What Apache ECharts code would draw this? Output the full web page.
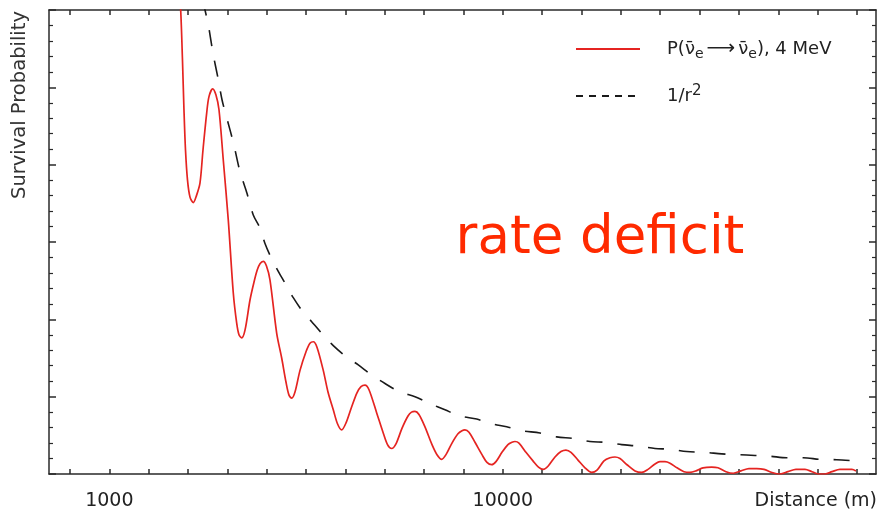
<!DOCTYPE html>
<html>
<head>
<meta charset="utf-8">
<script src="https://cdn.jsdelivr.net/npm/echarts@6/dist/echarts.min.js"></script>
<style>html,body{margin:0;padding:0;background:#fff}#c{width:884px;height:516px}</style>
</head>
<body>
<div id="c"></div>
<script>
// Distance axis (m)
const xMin = -380, xMax = 18535;
const xTickValues = [100, 1000, 1900, 2800, 3700, 4600, 5500, 6400, 7300, 8200, 9100, 10000, 10900, 11800, 12700, 13600, 14500, 15400, 16300, 17200, 18100];
const xLabelValues = [1000, 10000];
// Survival probability axis (arbitrary units)
const yMin = 0, yMax = 6, yInterval = 1;

// P(anti-nu_e -> anti-nu_e), 4 MeV
const oscDistance = [2595, 2632, 2673, 2707, 2742, 2788, 2845, 2920, 2993, 3073, 3142, 3227, 3279, 3364, 3439, 3508, 3606, 3721, 3835, 3913, 3965, 4027, 4103, 4217, 4308, 4384, 4446, 4521, 4594, 4674, 4828, 4942, 5040, 5109, 5171, 5246, 5361, 5498, 5589, 5665, 5749, 5893, 6001, 6122, 6218, 6314, 6413, 6543, 6664, 6756, 6847, 6939, 7115, 7259, 7362, 7458, 7556, 7693, 7831, 7911, 7991, 8082, 8219, 8380, 8494, 8602, 8700, 8837, 8974, 9066, 9134, 9226, 9363, 9523, 9637, 9745, 9843, 9980, 10117, 10209, 10278, 10369, 10529, 10689, 10815, 10925, 11033, 11193, 11330, 11444, 11559, 11719, 11879, 12032, 12154, 12314, 12451, 12565, 12680, 12840, 13023, 13176, 13320, 13480, 13594, 13709, 13823, 13983, 14143, 14281, 14418, 14578, 14777, 14921, 15104, 15271, 15447, 15630, 15806, 15973, 16156, 16339, 16522, 16705, 16911, 17071, 17208, 17368, 17528, 17710, 17870, 17985, 18077];
const oscValue = [6.26, 6.00, 5.35, 4.71, 4.19, 3.80, 3.58, 3.51, 3.60, 3.76, 4.19, 4.67, 4.88, 4.98, 4.90, 4.71, 4.06, 3.28, 2.34, 1.95, 1.80, 1.76, 1.86, 2.25, 2.48, 2.64, 2.72, 2.75, 2.69, 2.51, 1.82, 1.50, 1.19, 1.02, 0.98, 1.06, 1.34, 1.58, 1.69, 1.71, 1.64, 1.34, 1.06, 0.83, 0.65, 0.57, 0.66, 0.87, 1.05, 1.13, 1.15, 1.09, 0.79, 0.54, 0.38, 0.33, 0.39, 0.59, 0.75, 0.80, 0.81, 0.77, 0.61, 0.38, 0.25, 0.19, 0.25, 0.40, 0.52, 0.56, 0.57, 0.54, 0.41, 0.25, 0.15, 0.12, 0.16, 0.28, 0.38, 0.41, 0.42, 0.40, 0.28, 0.17, 0.09, 0.06, 0.10, 0.22, 0.29, 0.31, 0.28, 0.18, 0.08, 0.02, 0.05, 0.17, 0.21, 0.22, 0.20, 0.12, 0.04, 0.02, 0.06, 0.13, 0.16, 0.16, 0.14, 0.08, 0.03, 0.02, 0.04, 0.08, 0.09, 0.08, 0.03, 0.01, 0.04, 0.07, 0.07, 0.06, 0.02, 0.00, 0.03, 0.06, 0.06, 0.03, 0.00, 0.00, 0.03, 0.06, 0.06, 0.06, 0.04];

// 1/r^2
const invSqDistance = [3137, 3188, 3263, 3378, 3485, 3577, 3668, 3760, 3851, 3988, 4148, 4292, 4446, 4560, 4690, 4864, 5017, 5207, 5399, 5628, 5857, 6122, 6390, 6694, 7000, 7305, 7648, 7991, 8334, 8677, 9020, 9402, 9745, 10088, 10431, 10850, 11232, 11612, 11993, 12336, 12718, 13098, 13480, 13823, 14205, 14624, 15006, 15386, 15768, 16110, 16492, 16872, 17254, 17635, 18055];
const invSqValue = [6.13, 6.00, 5.81, 5.42, 5.12, 4.84, 4.64, 4.45, 4.25, 3.91, 3.63, 3.35, 3.18, 2.98, 2.81, 2.62, 2.47, 2.28, 2.12, 1.97, 1.82, 1.66, 1.53, 1.41, 1.28, 1.17, 1.06, 1.00, 0.91, 0.83, 0.75, 0.71, 0.65, 0.61, 0.56, 0.53, 0.48, 0.46, 0.42, 0.41, 0.38, 0.36, 0.33, 0.32, 0.29, 0.28, 0.26, 0.25, 0.24, 0.23, 0.21, 0.21, 0.19, 0.185, 0.17];

const seriesNames = ['osc', 'invsq'];

const FONT = 'DejaVu Sans';
const AX = '#2a2a2a';
const RED = '#e52421';

function xAxisCfg(pos, showLabel) {
  return {
    type: 'value', position: pos, min: xMin, max: xMax,
    axisLine: { show: true, onZero: false, lineStyle: { color: AX, width: 1.5 } },
    axisTick: { show: true, inside: true, length: 5, customValues: xTickValues, lineStyle: { color: AX, width: 1.5 } },
    axisLabel: { show: showLabel, customValues: xLabelValues, margin: 18, color: '#222', fontFamily: FONT, fontSize: 19,
      formatter: v => String(v) },
    splitLine: { show: false }
  };
}
function yAxisCfg(pos) {
  return {
    type: 'value', position: pos, min: yMin, max: yMax, interval: yInterval,
    axisLine: { show: true, onZero: false, lineStyle: { color: AX, width: 1.5 } },
    axisTick: { show: true, inside: true, length: 7, lineStyle: { color: AX, width: 1.5 } },
    minorTick: { show: true, splitNumber: 5, length: 4, lineStyle: { color: AX, width: 1.2 } },
    axisLabel: { show: false },
    splitLine: { show: false }, minorSplitLine: { show: false }
  };
}

const richLegend = {
  t: { fontFamily: FONT, fontSize: 18, color: '#222', lineHeight: 24 },
  arr: { fontFamily: FONT, fontSize: 20, color: '#222', lineHeight: 24, padding: [0, 3, 0, 3] },
  s: { fontFamily: FONT, fontSize: 14, color: '#222', lineHeight: 17, verticalAlign: 'bottom' },
  sup: { fontFamily: FONT, fontSize: 15, color: '#222', lineHeight: 18, verticalAlign: 'top' }
};
const legendText = {
  osc: '{t|P(\u03BD\u0304}{s|e}{arr|\u27F6}{t|\u03BD\u0304}{s|e}{t|), 4 MeV}',
  invsq: '{t|1/r}{sup|2}'
};

const chart = echarts.init(document.getElementById('c'), null, { renderer: 'canvas' });
chart.setOption({
  animation: false,
  backgroundColor: '#fff',
  grid: { left: 49, right: 8, top: 10, bottom: 42, containLabel: false },
  xAxis: [xAxisCfg('bottom', true), xAxisCfg('top', false)],
  yAxis: [yAxisCfg('left'), yAxisCfg('right')],
  legend: {
    data: [
      { name: seriesNames[0] },
      { name: seriesNames[1], lineStyle: { type: [7, 6] } }
    ],
    left: 570, top: 34, orient: 'vertical', itemGap: 23,
    itemWidth: 64, itemHeight: 14,
    itemStyle: { color: 'rgba(0,0,0,0)', borderColor: 'rgba(0,0,0,0)', borderWidth: 0, opacity: 0 },
    formatter: name => legendText[name],
    textStyle: { rich: richLegend, padding: [0, 0, 0, 22] }
  },
  series: [
    {
      name: seriesNames[0], type: 'line', xAxisIndex: 0, yAxisIndex: 0,
      data: oscDistance.map((d, i) => [d, oscValue[i]]),
      showSymbol: false, symbol: 'none', smooth: 0.3, clip: true,
      lineStyle: { color: RED, width: 1.7 }, itemStyle: { color: RED }, z: 3
    },
    {
      name: seriesNames[1], type: 'line', xAxisIndex: 0, yAxisIndex: 0,
      data: invSqDistance.map((d, i) => [d, invSqValue[i]]),
      showSymbol: false, symbol: 'none', smooth: 0.3, clip: true,
      lineStyle: { color: '#1a1a1a', width: 1.6, type: [16, 15] }, itemStyle: { color: '#1a1a1a' }, z: 2
    }
  ],
  graphic: [
    { type: 'text', x: 20, y: 105, rotation: Math.PI / 2,
      style: { text: 'Survival Probability', fontFamily: FONT, fontSize: 19.5, fill: '#333', align: 'center', verticalAlign: 'middle' } },
    { type: 'text', x: 877, y: 501,
      style: { text: 'Distance (m)', fontFamily: FONT, fontSize: 19, fill: '#222', align: 'right', verticalAlign: 'middle' } },
    { type: 'text', x: 600, y: 239,
      style: { text: 'rate deficit', fontFamily: FONT, fontSize: 53, fill: '#ff2a00', align: 'center', verticalAlign: 'middle' } }
  ]
});
</script>
</body>
</html>
